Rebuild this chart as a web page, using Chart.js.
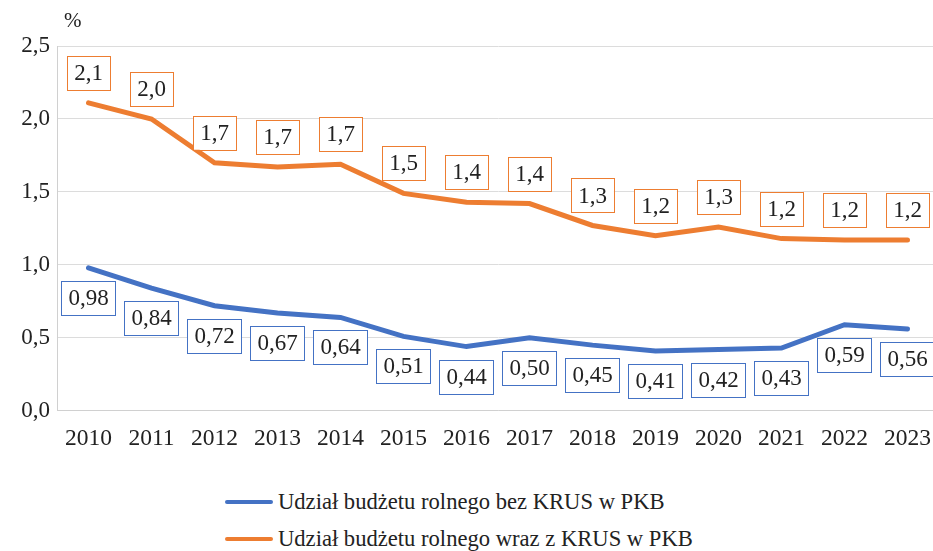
<!DOCTYPE html>
<html>
<head>
<meta charset="utf-8">
<script src="https://cdn.jsdelivr.net/npm/chart.js@4"></script>
<style>
  html, body { margin:0; padding:0; background:#fff; overflow:hidden; font-family:'Liberation Serif'; }
  #wrap { position:relative; width:945px; height:551px; }
  #pct { position:absolute; left:64px; top:8px; font-family:'Liberation Serif'; font-size:21px; color:#222; }
  #legend { position:absolute; left:225px; top:483px; font-family:'Liberation Serif'; font-size:22.6px; color:#222; }
  .item { display:flex; align-items:center; height:37px; }
  .swatch { width:48px; height:4px; border-radius:2px; margin-right:5px; }
</style>
</head>
<body>
<div id="wrap">
  <canvas id="chart" width="945" height="467"></canvas>
  <div id="pct">%</div>
  <div id="legend"></div>
</div>
<script>
const years = ['2010','2011','2012','2013','2014','2015','2016','2017','2018','2019','2020','2021','2022','2023'];
const withoutKrus = [0.98,0.84,0.72,0.67,0.64,0.51,0.44,0.50,0.45,0.41,0.42,0.43,0.59,0.56];
const withKrus = [2.11,2.00,1.70,1.67,1.69,1.49,1.43,1.42,1.27,1.20,1.26,1.18,1.17,1.17];
const withoutKrusLabels = ['0,98','0,84','0,72','0,67','0,64','0,51','0,44','0,50','0,45','0,41','0,42','0,43','0,59','0,56'];
const withKrusLabels = ['2,1','2,0','1,7','1,7','1,7','1,5','1,4','1,4','1,3','1,2','1,3','1,2','1,2','1,2'];
const yTicks = ['0,0','0,5','1,0','1,5','2,0','2,5'];
const seriesNames = ['Udział budżetu rolnego bez KRUS w PKB','Udział budżetu rolnego wraz z KRUS w PKB'];
const blue = '#4472C4', orange = '#ED7D31';
const FONT = "'Liberation Serif'";
Chart.defaults.font.family = FONT;

// boxed value labels, orange above the line, blue below
const boxLabels = {
  id:'boxLabels',
  afterDatasetsDraw(chart) {
    const ctx = chart.ctx;
    ctx.save();
    ctx.font = '23px ' + FONT;
    ctx.textAlign = 'center'; ctx.textBaseline = 'middle';
    chart.data.datasets.forEach((ds, i) => {
      const meta = chart.getDatasetMeta(i);
      meta.data.forEach((pt, j) => {
        const txt = ds.boxText[j];
        const w = ctx.measureText(txt).width + 14, h = 34;
        const cy = ds.above ? pt.y - 13 - h/2 : pt.y + 13 + h/2;
        ctx.fillStyle = '#fff';
        ctx.fillRect(pt.x - w/2, cy - h/2, w, h);
        ctx.strokeStyle = ds.borderColor; ctx.lineWidth = 1;
        ctx.strokeRect(Math.round(pt.x - w/2) + 0.5, Math.round(cy - h/2) + 0.5, Math.round(w), h);
        ctx.fillStyle = '#222';
        ctx.fillText(txt, pt.x, cy + 1);
      });
    });
    ctx.restore();
  }
};

new Chart(document.getElementById('chart'), {
  type:'line',
  data:{
    labels: years,
    datasets:[
      { label: seriesNames[0], data: withoutKrus, boxText: withoutKrusLabels, above:false,
        borderColor: blue, borderWidth:5, pointRadius:0, tension:0, borderCapStyle:'round' },
      { label: seriesNames[1], data: withKrus, boxText: withKrusLabels, above:true,
        borderColor: orange, borderWidth:5, pointRadius:0, tension:0, borderCapStyle:'round' }
    ]
  },
  options:{
    responsive:false, animation:false,
    layout:{ padding:{ top:46, right:0, left:0 } },
    plugins:{ legend:{display:false}, tooltip:{enabled:false} },
    scales:{
      x:{
        offset:true,
        grid:{ display:false, drawTicks:false },
        border:{ color:'#d0d0d0', width:1 },
        ticks:{ color:'#222', font:{ family:FONT, size:23.5 }, padding:14, maxRotation:0 }
      },
      y:{
        min:0, max:2.5,
        afterFit(s){ s.width = 57; },
        grid:{ color:'#dcdcdc', lineWidth:1, drawTicks:false },
        border:{ color:'#d0d0d0', width:1 },
        ticks:{ stepSize:0.5, color:'#222', font:{ family:FONT, size:23 }, padding:7,
          callback:(v, i) => yTicks[i] }
      }
    }
  },
  plugins:[boxLabels]
});

document.getElementById('legend').innerHTML = seriesNames.map((n, i) =>
  `<div class="item"><div class="swatch" style="background:${i ? orange : blue}"></div>${n}</div>`).join('');
</script>
</body>
</html>
